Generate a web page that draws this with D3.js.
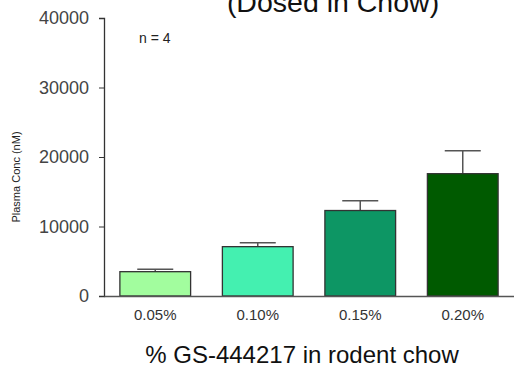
<!DOCTYPE html>
<html>
<head>
<meta charset="utf-8">
<script src="https://cdn.jsdelivr.net/npm/d3@7"></script>
<style>
  html, body { margin: 0; padding: 0; background: #fff; }
  svg { display: block; font-family: Arial, "Liberation Sans", sans-serif; }
</style>
</head>
<body>
<div id="chart"></div>
<script>
// doses in chow and mean plasma concentration (nM) with SD
const doses = ['0.05%', '0.10%', '0.15%', '0.20%'];
const means = [3500, 7100, 12300, 17600];
const errors = [350, 560, 1400, 3300];
const colors = ['#a2fd9e', '#44f0b0', '#0d9664', '#005a00'];
const yTicks = [0, 10000, 20000, 30000, 40000];

const width = 514;
const height = 371;

const svg = d3.select('#chart')
  .append('svg')
  .attr('width', width)
  .attr('height', height);

const x = d3.scaleBand()
  .domain(doses)
  .range([104, 514])
  .paddingInner(0.31)
  .paddingOuter(0.155);

const y = d3.scaleLinear()
  .domain([0, 40000])
  .range([296, 18]);

// title, first line falls off the top of the picture
svg.append('text')
  .attr('x', 333)
  .attr('y', 12)
  .attr('text-anchor', 'middle')
  .attr('font-size', 28.5)
  .attr('fill', '#111')
  .text('(Dosed in Chow)');

// y axis
const yAxis = svg.append('g')
  .attr('transform', 'translate(104,0)')
  .call(d3.axisLeft(y).tickValues(yTicks).tickSize(5).tickPadding(10).tickFormat(d3.format('d')));
yAxis.select('.domain').attr('stroke', '#333').attr('stroke-width', 1.3);
yAxis.selectAll('.tick line').attr('stroke', '#333');
yAxis.selectAll('.tick text')
  .attr('font-size', 18)
  .attr('fill', '#444')
  .attr('font-family', 'Arial, "Liberation Sans", sans-serif');

svg.append('text')
  .attr('transform', 'translate(20,177) rotate(-90)')
  .attr('text-anchor', 'middle')
  .attr('font-size', 11)
  .attr('fill', '#222')
  .text('Plasma Conc (nM)');

svg.append('text')
  .attr('x', 139)
  .attr('y', 43)
  .attr('font-size', 14)
  .attr('fill', '#222')
  .text('n = 4');

// error bars (upper only)
const err = svg.append('g')
  .attr('stroke', '#555')
  .attr('stroke-width', 1.5);
doses.forEach((d, i) => {
  const cx = x(d) + x.bandwidth() / 2;
  err.append('line')
    .attr('x1', cx).attr('x2', cx)
    .attr('y1', y(means[i])).attr('y2', y(means[i] + errors[i]));
  err.append('line')
    .attr('x1', cx - 18).attr('x2', cx + 18)
    .attr('y1', y(means[i] + errors[i])).attr('y2', y(means[i] + errors[i]));
});

// bars
svg.append('g')
  .selectAll('rect')
  .data(doses)
  .join('rect')
  .attr('x', d => x(d))
  .attr('y', (d, i) => y(means[i]))
  .attr('width', x.bandwidth())
  .attr('height', (d, i) => y(0) - y(means[i]))
  .attr('fill', (d, i) => colors[i])
  .attr('stroke', '#333')
  .attr('stroke-width', 1.3);

// x axis
const xAxis = svg.append('g')
  .attr('transform', 'translate(0,296)')
  .call(d3.axisBottom(x).tickSize(0).tickPadding(13));
xAxis.select('.domain').attr('stroke', '#555').attr('stroke-width', 1.5);
xAxis.selectAll('.tick text')
  .attr('font-size', 15)
  .attr('fill', '#333')
  .attr('font-family', 'Arial, "Liberation Sans", sans-serif');

svg.append('text')
  .attr('x', 302)
  .attr('y', 363)
  .attr('text-anchor', 'middle')
  .attr('font-size', 24)
  .attr('fill', '#111')
  .text('% GS-444217 in rodent chow');
</script>
</body>
</html>
